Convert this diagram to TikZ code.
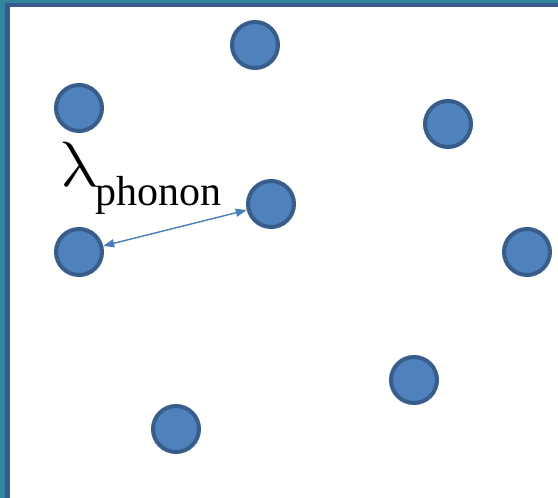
\documentclass[tikz,border=0pt]{standalone}
\usepackage{graphicx}
\usepackage{fontspec}
\setmainfont{Liberation Serif}
\usetikzlibrary{arrows.meta}
\definecolor{dotfill}{HTML}{4F81BD}
\definecolor{dotline}{HTML}{385D8A}
\definecolor{arrowc}{HTML}{4A7EBB}
\definecolor{tealc}{HTML}{31859C}
\definecolor{framec}{HTML}{3A5A8C}
\tikzset{
  dot/.style={circle, fill=dotfill, draw=dotline, line width=4pt, minimum size=46pt, inner sep=0pt},
  dist/.style={draw=arrowc, line width=1.4pt, {Triangle[length=11pt,width=8pt]}-{Triangle[length=11pt,width=8pt]}}
}
\begin{document}
\begin{tikzpicture}[x=1pt,y=-1pt]
\useasboundingbox (0,0) rectangle (558,498);
\fill[white] (0,0) rectangle (558,498);
% frame
\fill[tealc] (0,0) rectangle (5,498);
\fill[tealc] (0,0) rectangle (558,2.5);
\fill[framec] (5,2.5) rectangle (10,498);
\fill[framec] (5,2.5) rectangle (558,6.5);
% dots
\node[dot] (c1) at (255,45) {};
\node[dot] (c2) at (79,108) {};
\node[dot] (c3) at (448,124) {};
\node[dot] (c4) at (271,204) {};
\node[dot] (c5) at (79,252) {};
\node[dot] (c6) at (527,252) {};
\node[dot] (c7) at (414,380) {};
\node[dot] (c8) at (176,429) {};
% arrow
\draw[dist] (c5) -- (c4);
% label
\begin{scope}[shift={(61,186)}, xslant=-0.22]
\node[anchor=base west, inner sep=0pt, transform shape] (lam) at (0,0) {\scalebox{6.4}{$\lambda$}};
\end{scope}
\node[anchor=base west, inner sep=0pt, font=\fontsize{42}{42}\selectfont] (sub) at (95,205) {phonon};
\end{tikzpicture}
\end{document}
